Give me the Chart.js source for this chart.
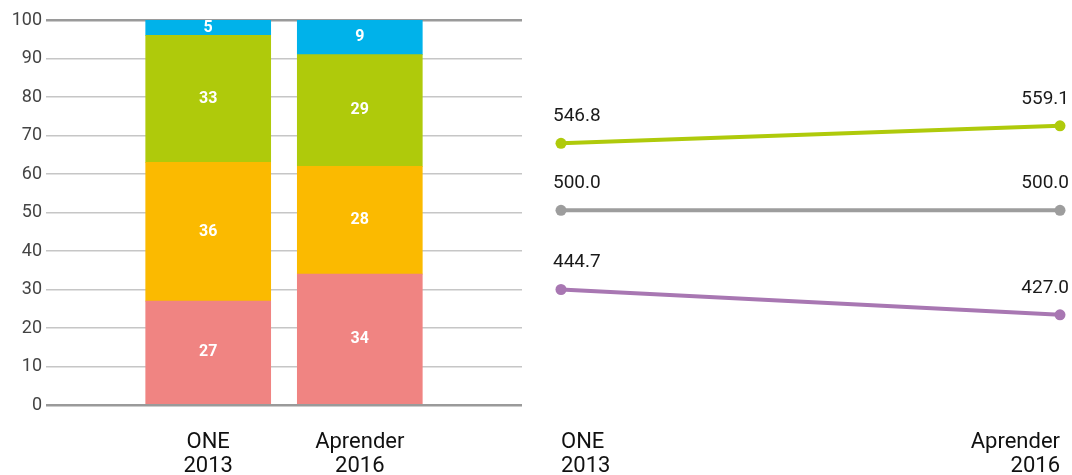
<!DOCTYPE html>
<html>
<head>
<meta charset="utf-8">
<script src="https://cdn.jsdelivr.net/npm/chart.js@4.4.1/dist/chart.umd.min.js"></script>
<style>
  html, body { margin: 0; padding: 0; background: #fff; overflow: hidden; }
  #wrap { position: relative; width: 1072px; height: 475px; overflow: hidden; }
  #barBox { position: absolute; left: 0; top: 0; width: 530px; height: 475px; }
  #lineBox { position: absolute; left: 530px; top: 0; width: 547px; height: 475px; }
  canvas { display: block; }
</style>
</head>
<body>
<div id="wrap">
  <div id="barBox"><canvas id="barChart"></canvas></div>
  <div id="lineBox"><canvas id="lineChart"></canvas></div>
</div>
<script>
// stacked bars (percent)
const barCategories = [['ONE', '2013'], ['Aprender', '2016']];
const bandRed = [27, 34];
const bandOrange = [36, 28];
const bandGreen = [33, 29];
const bandBlue = [5, 9];

// scores
const lineCategories = [['ONE', '2013'], ['Aprender', '2016']];
const scoreHigh = [546.8, 559.1];
const scoreMid = [500.0, 500.0];
const scoreLow = [444.7, 427.0];

const colors = {
  red: '#F08482', orange: '#FBBA00', green: '#AFCA0B', blue: '#00B2EA',
  gray: '#9D9D9D', purple: '#A877B2'
};

Chart.defaults.font.family = 'Roboto, "Open Sans", sans-serif';
Chart.defaults.animation = false;

// bars sit on a numeric x axis so the two columns can be placed close together
const toPoints = arr => arr.map((v, i) => ({ x: i, y: v }));

const barLabels = {
  id: 'barLabels',
  afterDatasetsDraw(chart) {
    const ctx = chart.ctx;
    const top = chart.chartArea.top;
    ctx.save();
    ctx.font = 'bold 16px Roboto';
    ctx.fillStyle = '#fff';
    ctx.textAlign = 'center';
    ctx.textBaseline = 'middle';
    chart.data.datasets.forEach((ds, i) => {
      chart.getDatasetMeta(i).data.forEach((el, j) => {
        const v = ds.data[j].y;
        const y1 = Math.max(el.y, top);
        ctx.fillText(String(v), el.x, (y1 + el.base) / 2);
      });
    });
    ctx.restore();
  }
};

const lineLabels = {
  id: 'lineLabels',
  afterDatasetsDraw(chart) {
    const ctx = chart.ctx;
    ctx.save();
    ctx.font = '19px Roboto';
    ctx.fillStyle = '#1a1a1a';
    ctx.textBaseline = 'middle';
    chart.data.datasets.forEach((ds, i) => {
      chart.getDatasetMeta(i).data.forEach((pt, j) => {
        const first = j === 0;
        ctx.textAlign = first ? 'left' : 'right';
        ctx.fillText(ds.data[j].toFixed(1), pt.x + (first ? -8 : 9), pt.y - 27);
      });
    });
    ctx.restore();
  }
};

new Chart(document.getElementById('barChart'), {
  type: 'bar',
  data: {
    datasets: [
      { data: toPoints(bandRed), backgroundColor: colors.red },
      { data: toPoints(bandOrange), backgroundColor: colors.orange },
      { data: toPoints(bandGreen), backgroundColor: colors.green },
      { data: toPoints(bandBlue), backgroundColor: colors.blue }
    ]
  },
  options: {
    responsive: true,
    maintainAspectRatio: false,
    datasets: { bar: { barThickness: 125, borderWidth: 0 } },
    layout: { padding: { top: 20, right: 8, left: 0, bottom: 0 } },
    plugins: { legend: { display: false }, tooltip: { enabled: false } },
    scales: {
      x: {
        type: 'linear',
        stacked: true,
        offset: false,
        min: -1.07,
        max: 2.07,
        afterBuildTicks(s) { s.ticks = barCategories.map((c, i) => ({ value: i })); },
        grid: { display: false },
        border: { display: false },
        ticks: {
          color: '#111', font: { size: 22, lineHeight: 1.1 }, padding: 17, maxRotation: 0, autoSkip: false,
          callback: v => barCategories[v]
        },
        afterFit(s) { s.height = 70; }
      },
      y: {
        stacked: true,
        min: 0,
        max: 100,
        ticks: { stepSize: 10, color: '#444', font: { size: 18 }, padding: 4 },
        grid: {
          drawTicks: false,
          color: c => (c.tick.value === 0 || c.tick.value === 100) ? '#9a9a9a' : '#c6c6c6',
          lineWidth: c => (c.tick.value === 0 || c.tick.value === 100) ? 2.5 : 1.5
        },
        border: { display: false },
        afterFit(s) { s.width = 46; }
      }
    }
  },
  plugins: [barLabels]
});

new Chart(document.getElementById('lineChart'), {
  type: 'line',
  data: {
    labels: lineCategories,
    datasets: [
      { data: scoreHigh, borderColor: colors.green, backgroundColor: colors.green },
      { data: scoreMid, borderColor: colors.gray, backgroundColor: colors.gray },
      { data: scoreLow, borderColor: colors.purple, backgroundColor: colors.purple }
    ]
  },
  options: {
    responsive: true,
    maintainAspectRatio: false,
    datasets: { line: { borderWidth: 4, pointRadius: 5.5, pointBorderWidth: 0, clip: false, tension: 0 } },
    layout: { padding: { top: 20, right: 6, left: 31, bottom: 0 } },
    plugins: { legend: { display: false }, tooltip: { enabled: false } },
    scales: {
      x: {
        offset: false,
        grid: { display: false },
        border: { display: false },
        ticks: { color: '#111', font: { size: 22, lineHeight: 1.1 }, padding: 17, align: 'inner', maxRotation: 0, autoSkip: false },
        afterFit(s) { s.height = 70; }
      },
      y: { display: false, min: 364, max: 633 }
    }
  },
  plugins: [lineLabels]
});
</script>
</body>
</html>
